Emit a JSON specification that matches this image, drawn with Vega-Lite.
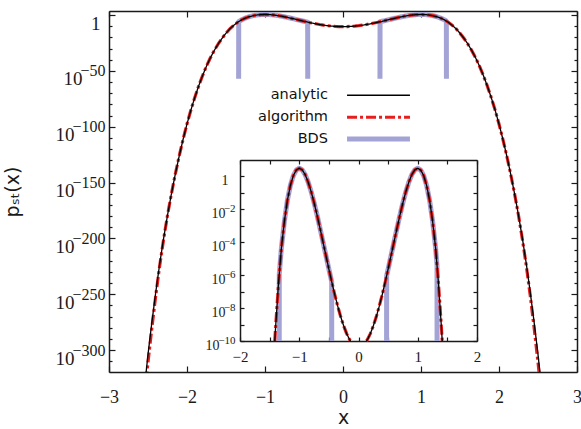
{
  "$schema": "https://vega.github.io/schema/vega-lite/v6.json",
  "width": 468,
  "height": 361,
  "autosize": {"type": "none"},
  "padding": {"left": 109, "top": 11, "right": 4, "bottom": 57},
  "background": "white",
  "config": {
    "view": {"stroke": null},
    "axis": {"grid": false, "domainColor": "#1a1a1a", "domainWidth": 1.5, "tickColor": "#1a1a1a", "tickWidth": 1.2, "labelColor": "#1a1a1a", "labelFont": "Liberation Serif, DejaVu Serif", "titleFont": "DejaVu Sans", "titleFontWeight": "normal", "titleColor": "#1a1a1a", "labelOverlap": false, "labelFlush": false},
    "line": {"strokeCap": "butt", "strokeJoin": "round"}
  },
  "datasets": {
    "curve": [
      {"x": -2.55, "analytic": -337, "algorithm": -345},
      {"x": -2.5, "analytic": -304, "algorithm": -311},
      {"x": -2.45, "analytic": -275, "algorithm": -280},
      {"x": -2.4, "analytic": -248, "algorithm": -251},
      {"x": -2.35, "analytic": -222.8, "algorithm": -224.5},
      {"x": -2.3, "analytic": -200.1, "algorithm": -201},
      {"x": -2.25, "analytic": -179.4, "algorithm": -179.4},
      {"x": -2.2, "analytic": -160.2, "algorithm": -160.2},
      {"x": -2.15, "analytic": -142.5, "algorithm": -142.5},
      {"x": -2.1, "analytic": -126.3, "algorithm": -126.3},
      {"x": -2.05, "analytic": -111.3, "algorithm": -111.3},
      {"x": -2.0, "analytic": -97.6, "algorithm": -97.6},
      {"x": -1.95, "analytic": -85.1, "algorithm": -85.1},
      {"x": -1.9, "analytic": -73.8, "algorithm": -73.8},
      {"x": -1.85, "analytic": -63.5, "algorithm": -63.5},
      {"x": -1.8, "analytic": -54.2, "algorithm": -54.2},
      {"x": -1.75, "analytic": -45.8, "algorithm": -45.8},
      {"x": -1.7, "analytic": -38.3, "algorithm": -38.3},
      {"x": -1.65, "analytic": -31.7, "algorithm": -31.7},
      {"x": -1.6, "analytic": -25.9, "algorithm": -25.9},
      {"x": -1.55, "analytic": -20.8, "algorithm": -20.8},
      {"x": -1.5, "analytic": -16.3, "algorithm": -16.3},
      {"x": -1.45, "analytic": -12.3, "algorithm": -12.3},
      {"x": -1.4, "analytic": -9.2, "algorithm": -9.2},
      {"x": -1.35, "analytic": -6.5, "algorithm": -6.5},
      {"x": -1.3, "analytic": -4.3, "algorithm": -4.3},
      {"x": -1.25, "analytic": -2.7, "algorithm": -2.7},
      {"x": -1.2, "analytic": -1.45, "algorithm": -1.45},
      {"x": -1.15, "analytic": -0.55, "algorithm": -0.55},
      {"x": -1.1, "analytic": 0.05, "algorithm": 0.05},
      {"x": -1.05, "analytic": 0.39, "algorithm": 0.39},
      {"x": -1.0, "analytic": 0.5, "algorithm": 0.5},
      {"x": -0.95, "analytic": 0.4, "algorithm": 0.4},
      {"x": -0.9, "analytic": 0.11, "algorithm": 0.11},
      {"x": -0.85, "analytic": -0.34, "algorithm": -0.34},
      {"x": -0.8, "analytic": -0.91, "algorithm": -0.91},
      {"x": -0.75, "analytic": -1.59, "algorithm": -1.59},
      {"x": -0.7, "analytic": -2.34, "algorithm": -2.34},
      {"x": -0.65, "analytic": -3.14, "algorithm": -3.14},
      {"x": -0.6, "analytic": -3.97, "algorithm": -3.97},
      {"x": -0.55, "analytic": -4.8, "algorithm": -4.8},
      {"x": -0.5, "analytic": -5.63, "algorithm": -5.63},
      {"x": -0.45, "analytic": -6.43, "algorithm": -6.43},
      {"x": -0.4, "analytic": -7.19, "algorithm": -7.19},
      {"x": -0.35, "analytic": -7.89, "algorithm": -7.89},
      {"x": -0.3, "analytic": -8.53, "algorithm": -8.53},
      {"x": -0.25, "analytic": -9.08, "algorithm": -9.08},
      {"x": -0.2, "analytic": -9.55, "algorithm": -9.55},
      {"x": -0.15, "analytic": -9.92, "algorithm": -9.92},
      {"x": -0.1, "analytic": -10.18, "algorithm": -10.18},
      {"x": -0.05, "analytic": -10.35, "algorithm": -10.35},
      {"x": 0.0, "analytic": -10.4, "algorithm": -10.4},
      {"x": 0.05, "analytic": -10.35, "algorithm": -10.35},
      {"x": 0.1, "analytic": -10.18, "algorithm": -10.18},
      {"x": 0.15, "analytic": -9.92, "algorithm": -9.92},
      {"x": 0.2, "analytic": -9.55, "algorithm": -9.55},
      {"x": 0.25, "analytic": -9.08, "algorithm": -9.08},
      {"x": 0.3, "analytic": -8.53, "algorithm": -8.53},
      {"x": 0.35, "analytic": -7.89, "algorithm": -7.89},
      {"x": 0.4, "analytic": -7.19, "algorithm": -7.19},
      {"x": 0.45, "analytic": -6.43, "algorithm": -6.43},
      {"x": 0.5, "analytic": -5.63, "algorithm": -5.63},
      {"x": 0.55, "analytic": -4.8, "algorithm": -4.8},
      {"x": 0.6, "analytic": -3.97, "algorithm": -3.97},
      {"x": 0.65, "analytic": -3.14, "algorithm": -3.14},
      {"x": 0.7, "analytic": -2.34, "algorithm": -2.34},
      {"x": 0.75, "analytic": -1.59, "algorithm": -1.59},
      {"x": 0.8, "analytic": -0.91, "algorithm": -0.91},
      {"x": 0.85, "analytic": -0.34, "algorithm": -0.34},
      {"x": 0.9, "analytic": 0.11, "algorithm": 0.11},
      {"x": 0.95, "analytic": 0.4, "algorithm": 0.4},
      {"x": 1.0, "analytic": 0.5, "algorithm": 0.5},
      {"x": 1.05, "analytic": 0.39, "algorithm": 0.39},
      {"x": 1.1, "analytic": 0.05, "algorithm": 0.05},
      {"x": 1.15, "analytic": -0.55, "algorithm": -0.55},
      {"x": 1.2, "analytic": -1.45, "algorithm": -1.45},
      {"x": 1.25, "analytic": -2.7, "algorithm": -2.7},
      {"x": 1.3, "analytic": -4.3, "algorithm": -4.3},
      {"x": 1.35, "analytic": -6.5, "algorithm": -6.5},
      {"x": 1.4, "analytic": -9.2, "algorithm": -9.2},
      {"x": 1.45, "analytic": -12.3, "algorithm": -12.3},
      {"x": 1.5, "analytic": -16.3, "algorithm": -16.3},
      {"x": 1.55, "analytic": -20.8, "algorithm": -20.8},
      {"x": 1.6, "analytic": -25.9, "algorithm": -25.9},
      {"x": 1.65, "analytic": -31.7, "algorithm": -31.7},
      {"x": 1.7, "analytic": -38.3, "algorithm": -38.3},
      {"x": 1.75, "analytic": -45.8, "algorithm": -45.8},
      {"x": 1.8, "analytic": -54.2, "algorithm": -54.2},
      {"x": 1.85, "analytic": -63.5, "algorithm": -63.5},
      {"x": 1.9, "analytic": -73.8, "algorithm": -73.8},
      {"x": 1.95, "analytic": -85.1, "algorithm": -85.1},
      {"x": 2.0, "analytic": -97.6, "algorithm": -97.6},
      {"x": 2.05, "analytic": -111.3, "algorithm": -111.3},
      {"x": 2.1, "analytic": -126.3, "algorithm": -126.3},
      {"x": 2.15, "analytic": -142.5, "algorithm": -142.5},
      {"x": 2.2, "analytic": -160.2, "algorithm": -160.2},
      {"x": 2.25, "analytic": -179.4, "algorithm": -179.4},
      {"x": 2.3, "analytic": -200.1, "algorithm": -201},
      {"x": 2.35, "analytic": -222.8, "algorithm": -224.5},
      {"x": 2.4, "analytic": -248, "algorithm": -251},
      {"x": 2.45, "analytic": -275, "algorithm": -280},
      {"x": 2.5, "analytic": -304, "algorithm": -311},
      {"x": 2.55, "analytic": -337, "algorithm": -345}
    ],
    "inset": [
      {"p": "L", "x": -1.413, "y": -10},
      {"p": "L", "x": -1.4, "y": -9.2},
      {"p": "L", "x": -1.35, "y": -6.5},
      {"p": "L", "x": -1.3, "y": -4.3},
      {"p": "L", "x": -1.25, "y": -2.7},
      {"p": "L", "x": -1.2, "y": -1.45},
      {"p": "L", "x": -1.15, "y": -0.55},
      {"p": "L", "x": -1.1, "y": 0.05},
      {"p": "L", "x": -1.05, "y": 0.39},
      {"p": "L", "x": -1.0, "y": 0.5},
      {"p": "L", "x": -0.95, "y": 0.4},
      {"p": "L", "x": -0.9, "y": 0.11},
      {"p": "L", "x": -0.85, "y": -0.34},
      {"p": "L", "x": -0.8, "y": -0.91},
      {"p": "L", "x": -0.75, "y": -1.59},
      {"p": "L", "x": -0.7, "y": -2.34},
      {"p": "L", "x": -0.65, "y": -3.14},
      {"p": "L", "x": -0.6, "y": -3.97},
      {"p": "L", "x": -0.55, "y": -4.8},
      {"p": "L", "x": -0.5, "y": -5.63},
      {"p": "L", "x": -0.45, "y": -6.43},
      {"p": "L", "x": -0.4, "y": -7.19},
      {"p": "L", "x": -0.35, "y": -7.89},
      {"p": "L", "x": -0.3, "y": -8.53},
      {"p": "L", "x": -0.25, "y": -9.08},
      {"p": "L", "x": -0.2, "y": -9.55},
      {"p": "L", "x": -0.15, "y": -9.92},
      {"p": "L", "x": -0.135, "y": -10},
      {"p": "R", "x": 0.135, "y": -10},
      {"p": "R", "x": 0.15, "y": -9.92},
      {"p": "R", "x": 0.2, "y": -9.55},
      {"p": "R", "x": 0.25, "y": -9.08},
      {"p": "R", "x": 0.3, "y": -8.53},
      {"p": "R", "x": 0.35, "y": -7.89},
      {"p": "R", "x": 0.4, "y": -7.19},
      {"p": "R", "x": 0.45, "y": -6.43},
      {"p": "R", "x": 0.5, "y": -5.63},
      {"p": "R", "x": 0.55, "y": -4.8},
      {"p": "R", "x": 0.6, "y": -3.97},
      {"p": "R", "x": 0.65, "y": -3.14},
      {"p": "R", "x": 0.7, "y": -2.34},
      {"p": "R", "x": 0.75, "y": -1.59},
      {"p": "R", "x": 0.8, "y": -0.91},
      {"p": "R", "x": 0.85, "y": -0.34},
      {"p": "R", "x": 0.9, "y": 0.11},
      {"p": "R", "x": 0.95, "y": 0.4},
      {"p": "R", "x": 1.0, "y": 0.5},
      {"p": "R", "x": 1.05, "y": 0.39},
      {"p": "R", "x": 1.1, "y": 0.05},
      {"p": "R", "x": 1.15, "y": -0.55},
      {"p": "R", "x": 1.2, "y": -1.45},
      {"p": "R", "x": 1.25, "y": -2.7},
      {"p": "R", "x": 1.3, "y": -4.3},
      {"p": "R", "x": 1.35, "y": -6.5},
      {"p": "R", "x": 1.4, "y": -9.2},
      {"p": "R", "x": 1.413, "y": -10}
    ],
    "bds": [
      {"g": "L", "x": -1.338, "y": -57},
      {"g": "L", "x": -1.337, "y": -5.93},
      {"g": "L", "x": -1.3, "y": -4.3},
      {"g": "L", "x": -1.25, "y": -2.7},
      {"g": "L", "x": -1.2, "y": -1.45},
      {"g": "L", "x": -1.15, "y": -0.55},
      {"g": "L", "x": -1.1, "y": 0.05},
      {"g": "L", "x": -1.05, "y": 0.39},
      {"g": "L", "x": -1.0, "y": 0.5},
      {"g": "L", "x": -0.95, "y": 0.4},
      {"g": "L", "x": -0.9, "y": 0.11},
      {"g": "L", "x": -0.85, "y": -0.34},
      {"g": "L", "x": -0.8, "y": -0.91},
      {"g": "L", "x": -0.75, "y": -1.59},
      {"g": "L", "x": -0.7, "y": -2.34},
      {"g": "L", "x": -0.65, "y": -3.14},
      {"g": "L", "x": -0.6, "y": -3.97},
      {"g": "L", "x": -0.55, "y": -4.8},
      {"g": "L", "x": -0.5, "y": -5.63},
      {"g": "L", "x": -0.453, "y": -6.38},
      {"g": "L", "x": -0.452, "y": -57},
      {"g": "R", "x": 0.474, "y": -57},
      {"g": "R", "x": 0.475, "y": -6.03},
      {"g": "R", "x": 0.5, "y": -5.63},
      {"g": "R", "x": 0.55, "y": -4.8},
      {"g": "R", "x": 0.6, "y": -3.97},
      {"g": "R", "x": 0.65, "y": -3.14},
      {"g": "R", "x": 0.7, "y": -2.34},
      {"g": "R", "x": 0.75, "y": -1.59},
      {"g": "R", "x": 0.8, "y": -0.91},
      {"g": "R", "x": 0.85, "y": -0.34},
      {"g": "R", "x": 0.9, "y": 0.11},
      {"g": "R", "x": 0.95, "y": 0.4},
      {"g": "R", "x": 1.0, "y": 0.5},
      {"g": "R", "x": 1.05, "y": 0.39},
      {"g": "R", "x": 1.1, "y": 0.05},
      {"g": "R", "x": 1.15, "y": -0.55},
      {"g": "R", "x": 1.2, "y": -1.45},
      {"g": "R", "x": 1.25, "y": -2.7},
      {"g": "R", "x": 1.3, "y": -4.3},
      {"g": "R", "x": 1.325, "y": -5.4},
      {"g": "R", "x": 1.326, "y": -57}
    ]
  },
  "layer": [
    {
      "layer": [
        {
          "data": {"name": "bds"},
          "mark": {"type": "line", "clip": true},
          "encoding": {
            "x": {"field": "x", "type": "quantitative", "scale": {"domain": [-3, 3], "nice": false, "zero": false},
              "axis": {"orient": "bottom", "values": [-3, -2, -1, 0, 1, 2, 3], "tickSize": -6, "labelFontSize": 18, "labelPadding": 22, "title": "x", "titleFontSize": 19, "titlePadding": 2}},
            "y": {"field": "y", "type": "quantitative", "scale": {"domain": [-319.7, 3.6], "nice": false, "zero": false},
              "axis": {"orient": "left", "values": [0, -50, -100, -150, -200, -250, -300], "tickSize": -6, "labelFontSize": 19, "labelOffset": 8,
                "labelPadding": {"condition": [{"test": "datum.value == 0", "value": 15}, {"test": "datum.value == -50", "value": 33}], "value": 41},
                "labelExpr": "datum.value == 0 ? '1' : '10'",
                "title": "pₛₜ(x)", "titleFontSize": 19, "titlePadding": 33}},
            "detail": {"field": "g"},
            "color": {"datum": "BDS", "type": "nominal",
              "scale": {"domain": ["analytic", "algorithm", "BDS"], "range": ["#000000", "#e61e1e", "#a3a3d6"]},
              "legend": {"orient": "none", "legendX": 139, "legendY": 77, "title": null, "symbolType": "M-6,0H6", "symbolSize": 110, "labelFont": "DejaVu Sans", "labelFontSize": 14.5, "labelColor": "#111111", "labelAlign": "right", "labelOffset": -58.5, "symbolOffset": 122.5, "rowPadding": 7, "padding": 0}},
            "strokeDash": {"datum": "BDS", "type": "nominal", "scale": {"domain": ["analytic", "algorithm", "BDS"], "range": [[1, 0], [10, 3, 3, 3], [1, 0]]}},
            "strokeWidth": {"datum": "BDS", "type": "nominal", "scale": {"type": "point", "padding": 0, "domain": ["analytic", "algorithm", "BDS"], "range": [1.3, 5]}}
          }
        },
        {
          "data": {"name": "curve"},
          "mark": {"type": "line", "clip": true},
          "encoding": {
            "x": {"field": "x", "type": "quantitative", "scale": {"domain": [-3, 3], "nice": false, "zero": false},
              "axis": {"orient": "top", "values": [-3, -2, -1, 0, 1, 2, 3], "tickSize": -6, "labels": false, "title": null}},
            "y": {"field": "algorithm", "type": "quantitative", "scale": {"domain": [-319.7, 3.6], "nice": false, "zero": false},
              "axis": {"orient": "right", "values": [0, -50, -100, -150, -200, -250, -300], "tickSize": -6, "labels": false, "title": null}},
            "color": {"datum": "algorithm", "type": "nominal"},
            "strokeDash": {"datum": "algorithm", "type": "nominal"},
            "strokeWidth": {"datum": "algorithm", "type": "nominal"}
          }
        },
        {
          "data": {"name": "curve"},
          "mark": {"type": "line", "clip": true},
          "encoding": {
            "x": {"field": "x", "type": "quantitative", "scale": {"domain": [-3, 3], "nice": false, "zero": false}, "axis": null},
            "y": {"field": "analytic", "type": "quantitative", "scale": {"domain": [-319.7, 3.6], "nice": false, "zero": false},
              "axis": {"orient": "left", "values": [-10, -20, -30, -40, -60, -70, -80, -90, -110, -120, -130, -140, -160, -170, -180, -190, -210, -220, -230, -240, -260, -270, -280, -290, -310], "tickSize": -3, "labels": false, "domain": false, "title": null}},
            "color": {"datum": "analytic", "type": "nominal"},
            "strokeDash": {"datum": "analytic", "type": "nominal"},
            "strokeWidth": {"datum": "analytic", "type": "nominal"}
          }
        },
        {
          "data": {"name": "curve"},
          "mark": {"type": "line", "clip": true, "opacity": 0},
          "encoding": {
            "x": {"field": "x", "type": "quantitative", "scale": {"domain": [-3, 3], "nice": false, "zero": false}, "axis": null},
            "y": {"field": "analytic", "type": "quantitative", "scale": {"domain": [-319.7, 3.6], "nice": false, "zero": false},
              "axis": {"orient": "right", "values": [-10, -20, -30, -40, -60, -70, -80, -90, -110, -120, -130, -140, -160, -170, -180, -190, -210, -220, -230, -240, -260, -270, -280, -290, -310], "tickSize": -3, "labels": false, "domain": false, "title": null}}
          }
        },
        {
          "data": {"name": "curve"},
          "mark": {"type": "line", "clip": true, "opacity": 0},
          "encoding": {
            "x": {"field": "x", "type": "quantitative", "scale": {"domain": [-3, 3], "nice": false, "zero": false}, "axis": null},
            "y": {"field": "analytic", "type": "quantitative", "scale": {"domain": [-319.7, 3.6], "nice": false, "zero": false},
              "axis": {"orient": "left", "values": [-50, -100, -150, -200, -250, -300], "ticks": false, "tickSize": 0, "domain": false, "labelFontSize": 16, "labelPadding": 4, "labelOffset": 0, "labelExpr": "'−' + (-datum.value)", "title": null}}
          }
        }
      ],
      "resolve": {"axis": {"x": "independent", "y": "independent"}}
    },
    {
      "layer": [
        {
          "data": {"name": "bds"},
          "mark": {"type": "line"},
          "encoding": {
            "x": {"field": "x", "type": "quantitative", "scale": {"domain": [-2, 2], "range": [131, 368], "nice": false, "zero": false},
              "axis": {"orient": "bottom", "offset": -31, "values": [-2, -1.5, -1, -0.5, 0, 0.5, 1, 1.5, 2], "format": ".0f", "labelExpr": "datum.value % 1 == 0 ? datum.label : ''", "tickSize": -4, "labelFontSize": 15, "labelPadding": 12, "title": null}},
            "y": {"field": "y", "type": "quantitative", "scale": {"domain": [-10, 1], "range": [330, 149], "clamp": true, "nice": false, "zero": false},
              "axis": {"orient": "left", "offset": -131, "values": [-10, -9, -8, -7, -6, -5, -4, -3, -2, -1, 0], "tickSize": -4, "labelFontSize": 14, "labelOffset": 4,
                "labelPadding": {"condition": [{"test": "datum.value == 0", "value": 16}, {"test": "datum.value == -10", "value": 25}], "value": 19},
                "labelExpr": "datum.value == 0 ? '1' : datum.value % 2 == 0 ? '10' : ''", "title": null}},
            "detail": {"field": "g"},
            "color": {"datum": "BDS", "type": "nominal"},
            "strokeDash": {"datum": "BDS", "type": "nominal"},
            "strokeWidth": {"datum": "BDS", "type": "nominal"}
          }
        },
        {
          "data": {"name": "inset"},
          "mark": {"type": "line"},
          "encoding": {
            "x": {"field": "x", "type": "quantitative", "scale": {"domain": [-2, 2], "range": [131, 368], "nice": false, "zero": false},
              "axis": {"orient": "top", "offset": -149, "values": [-2, -1.5, -1, -0.5, 0, 0.5, 1, 1.5, 2], "tickSize": -4, "labels": false, "title": null}},
            "y": {"field": "y", "type": "quantitative", "scale": {"domain": [-10, 1], "range": [330, 149], "clamp": true, "nice": false, "zero": false},
              "axis": {"orient": "right", "offset": -100, "values": [-10, -9, -8, -7, -6, -5, -4, -3, -2, -1, 0], "tickSize": -4, "labels": false, "title": null}},
            "detail": {"field": "p"},
            "color": {"datum": "algorithm", "type": "nominal"},
            "strokeDash": {"datum": "algorithm", "type": "nominal"},
            "strokeWidth": {"datum": "algorithm", "type": "nominal"}
          }
        },
        {
          "data": {"name": "inset"},
          "mark": {"type": "line"},
          "encoding": {
            "x": {"field": "x", "type": "quantitative", "scale": {"domain": [-2, 2], "range": [131, 368], "nice": false, "zero": false}, "axis": null},
            "y": {"field": "y", "type": "quantitative", "scale": {"domain": [-10, 1], "range": [330, 149], "clamp": true, "nice": false, "zero": false},
              "axis": {"orient": "left", "offset": -131, "values": [-10, -8, -6, -4, -2], "ticks": false, "tickSize": 0, "domain": false, "labelFontSize": 11, "labelPadding": 5, "labelOffset": -1, "labelExpr": "'−' + (-datum.value)", "title": null}},
            "detail": {"field": "p"},
            "color": {"datum": "analytic", "type": "nominal"},
            "strokeDash": {"datum": "analytic", "type": "nominal"},
            "strokeWidth": {"datum": "analytic", "type": "nominal"}
          }
        }
      ],
      "resolve": {"axis": {"x": "independent", "y": "independent"}}
    }
  ],
  "resolve": {"scale": {"x": "independent", "y": "independent"}}
}
